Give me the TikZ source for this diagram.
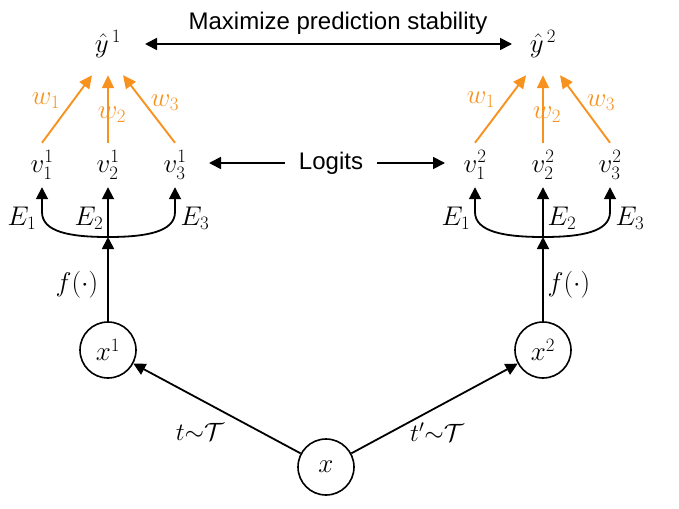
\RequirePackage{fix-cm}
\documentclass[tikz,border=0pt]{standalone}
\usepackage{fontspec}
\setmainfont{Liberation Sans}
\usetikzlibrary{arrows.meta}
\definecolor{org}{RGB}{248,146,30}
\tikzset{
  mathf/.style={inner sep=0pt, font=\fontsize{27}{31}\selectfont},
  vnode/.style={mathf, minimum width=44pt, minimum height=44pt},
  ynode/.style={mathf, minimum height=62pt},
  wlab/.style={mathf, text=org},
  sans/.style={inner sep=0pt, font=\fontsize{24}{28}\selectfont},
  circ/.style={draw, circle, line width=1.6pt, minimum size=56pt, inner sep=0pt, font=\fontsize{27}{31}\selectfont},
  tip/.style={-{Triangle[length=12pt,width=12pt]}},
  arr/.style={line width=1.8pt, tip},
  darr/.style={line width=1.8pt, {Triangle[length=12pt,width=12pt]}-{Triangle[length=12pt,width=12pt]}},
  oarr/.style={line width=1.9pt, draw=org, -{Triangle[length=13pt,width=12pt]}},
  slab/.style={inner sep=0pt, font=\fontsize{25}{29}\selectfont}
}
\begin{document}
\begin{tikzpicture}[x=1pt,y=-1pt]
\useasboundingbox (0,0) rectangle (679,508);

% title
\node[sans, anchor=base] (title) at (338,30) {Maximize prediction stability};
\node[ynode] (y1) at (108,44) {$\hat{y}^{\,1}$};
\node[ynode] (y2) at (543,44) {$\hat{y}^{\,2}$};
\draw[darr, shorten <=37pt, shorten >=31pt] (y1.center) -- (y2.center);

% logits
\node[vnode] (v11) at (42,165) {$v_1^1$};
\node[vnode] (v12) at (108,165) {$v_2^1$};
\node[vnode] (v13) at (175,165) {$v_3^1$};
\node[vnode] (v21) at (475,165) {$v_1^2$};
\node[vnode] (v22) at (543,165) {$v_2^2$};
\node[vnode] (v23) at (610,165) {$v_3^2$};
\node[sans, inner xsep=14pt] (logits) at (331,163) {Logits};
\draw[arr, shorten >=34pt] (logits.west) -- (v13.center |- logits.west);
\draw[arr, shorten >=30pt] (logits.east) -- (v21.center |- logits.east);

% orange weights
\draw[oarr] (v11.north) -- ([xshift=-16pt]y1.south);
\draw[oarr] (v12.north) -- (y1.south);
\draw[oarr] (v13.north) -- ([xshift=15pt]y1.south);
\draw[oarr] (v21.north) -- ([xshift=-17pt]y2.south);
\draw[oarr] (v22.north) -- (y2.south);
\draw[oarr] (v23.north) -- ([xshift=17pt]y2.south);
\node[wlab] (w11) at (46,101) {$w_1$};
\node[wlab] (w12) at (112,115) {$w_2$};
\node[wlab] (w13) at (165,103) {$w_3$};
\node[wlab] (w21) at (481,100) {$w_1$};
\node[wlab] (w22) at (547,115) {$w_2$};
\node[wlab] (w23) at (601,103) {$w_3$};

% experts
\coordinate (b1) at (108,237);
\coordinate (b2) at (543,237);
\draw[darr] (v11.south) -- (42,212) .. controls (42,232) and (70,237) .. (b1)
  .. controls (146,237) and (175,232) .. (175,212) -- (v13.south);
\draw[arr] (b1) -- (v12.south);
\draw[darr] (v21.south) -- (475,212) .. controls (475,232) and (505,237) .. (b2)
  .. controls (581,237) and (610,232) .. (610,212) -- (v23.south);
\draw[arr] (b2) -- (v22.south);
\node[mathf] (e11) at (22,218) {$E_1$};
\node[mathf] (e12) at (89,218) {$E_2$};
\node[mathf] (e13) at (195,218) {$E_3$};
\node[mathf] (e21) at (456,218) {$E_1$};
\node[mathf] (e22) at (562,218) {$E_2$};
\node[mathf] (e23) at (630,218) {$E_3$};

% inputs
\node[circ] (x1) at (108,350) {$x^1$};
\node[circ] (x2) at (543,350) {$x^2$};
\node[circ] (x) at (326,467) {$x$};
\draw[arr] (x1) -- (b1);
\draw[arr] (x2) -- (b2);
\node[mathf] (f1) at (77,285) {$f(\cdot)$};
\node[mathf] (f2) at (569,285) {$f(\cdot)$};
\draw[arr] (x) -- (x1);
\draw[arr] (x) -- (x2);
\node[slab] (t1) at (200,432) {$t{\sim}\mathcal{T}$};
\node[slab] (t2) at (437,432) {$t'{\sim}\mathcal{T}$};
\end{tikzpicture}
\end{document}
